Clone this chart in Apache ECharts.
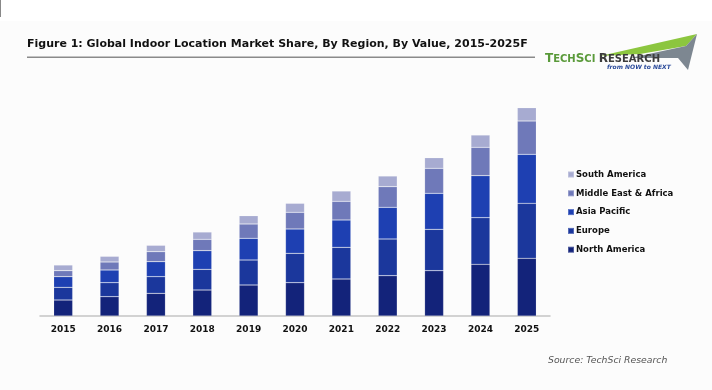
<!DOCTYPE html>
<html>
<head>
<meta charset="utf-8">
<script src="https://cdn.jsdelivr.net/npm/echarts@6/dist/echarts.min.js"></script>
<style>
html,body{margin:0;padding:0;background:#fcfcfc;}
#chart{width:712px;height:390px;}
</style>
</head>
<body>
<div id="chart"></div>
<script>
var years = ['2015','2016','2017','2018','2019','2020','2021','2022','2023','2024','2025'];
var northAmerica = [16, 19.3, 22.7, 26, 31, 33.3, 37, 40.3, 45.3, 51.7, 57.7];
var europe = [12.7, 14, 16.6, 20.7, 25, 29.4, 31.7, 36.7, 41.4, 46.6, 55];
var asiaPacific = [10.6, 12.7, 15, 18.6, 21.7, 24.3, 27.3, 31.7, 36, 42, 49];
var middleEastAfrica = [6, 8, 10, 11.4, 14.3, 16.7, 18.7, 20.6, 25, 28.4, 33.3];
var southAmerica = [5.7, 5.7, 6.4, 7.3, 8.3, 9, 10.3, 10.7, 10.6, 12.3, 13.3];
var seriesNames = ['North America','Europe','Asia Pacific','Middle East & Africa','South America'];
var seriesColors = ['#13237a','#1b379c','#1e40b2','#6f79b9','#a7abd1'];
var seriesData = [northAmerica, europe, asiaPacific, middleEastAfrica, southAmerica];

var chart = echarts.init(document.getElementById('chart'));
var series = seriesNames.map(function(n,i){
  return {
    name:n, type:'bar', stack:'total', barWidth:19,
    data:seriesData[i],
    itemStyle:{color:seriesColors[i], borderColor:'rgba(255,255,255,0.25)', borderWidth:0.6}
  };
});
chart.setOption({
  backgroundColor:'#fcfcfc',
  animation:false,
  grid:{left:40, right:162, top:96, bottom:74},
  xAxis:{type:'category', data:years,
    axisLine:{lineStyle:{color:'#c4c4c4', width:1.5}},
    axisTick:{show:false},
    axisLabel:{color:'#111', fontFamily:'DejaVu Sans', fontWeight:'bold', fontSize:9, margin:9}
  },
  yAxis:{type:'value', min:0, max:220, show:false, splitLine:{show:false}},
  legend:{
    data:['South America','Middle East & Africa','Asia Pacific','Europe','North America'],
    orient:'vertical', left:562, top:164, itemWidth:6, itemHeight:6, itemGap:7.8,
    icon:'rect',
    textStyle:{color:'#111', fontFamily:'DejaVu Sans', fontWeight:'bold', fontSize:8.5, lineHeight:11, padding:[0,0,0,-3]}
  },
  graphic:[
    {type:'rect', shape:{x:0,y:0,width:712,height:21}, style:{fill:'#ffffff'}},
    {type:'rect', shape:{x:0,y:0,width:1,height:17}, style:{fill:'#888'}},
    {type:'text', left:27, top:39, style:{text:'Figure 1: Global Indoor Location Market Share, By Region, By Value, 2015-2025F', fill:'#111', font:'bold 11px "DejaVu Sans"'}},
    {type:'rect', shape:{x:27,y:56.5,width:508,height:1.5}, style:{fill:'#8a8a8a'}},
    {type:'polygon', shape:{points:[[600,56],[697,34],[686,46],[640,54]]}, style:{fill:'#8cc63f'}},
    {type:'polygon', shape:{points:[[630,58],[686,46],[697,34],[688,70],[678,58]]}, style:{fill:'#7d8791'}},
    {type:'text', left:545, top:53, style:{text:'{a|T}{b|ECH}{a|S}{b|CI} {c|R}{d|ESEARCH}', rich:{
      a:{fill:'#5a9a3a', font:'bold 12px "DejaVu Sans"'},
      b:{fill:'#5a9a3a', font:'bold 10px "DejaVu Sans"'},
      c:{fill:'#3c3c3c', font:'bold 12px "DejaVu Sans"'},
      d:{fill:'#3c3c3c', font:'bold 10px "DejaVu Sans"'}}}},
    {type:'text', left:607, top:64, style:{text:'from NOW to NEXT', fill:'#2a4a9a', font:'italic bold 6px "DejaVu Sans"'}},
    {type:'text', left:548, top:356, style:{text:'Source: TechSci Research', fill:'#555', font:'italic 9.3px "DejaVu Sans"'}}
  ],
  series:series
});
</script>
</body>
</html>
